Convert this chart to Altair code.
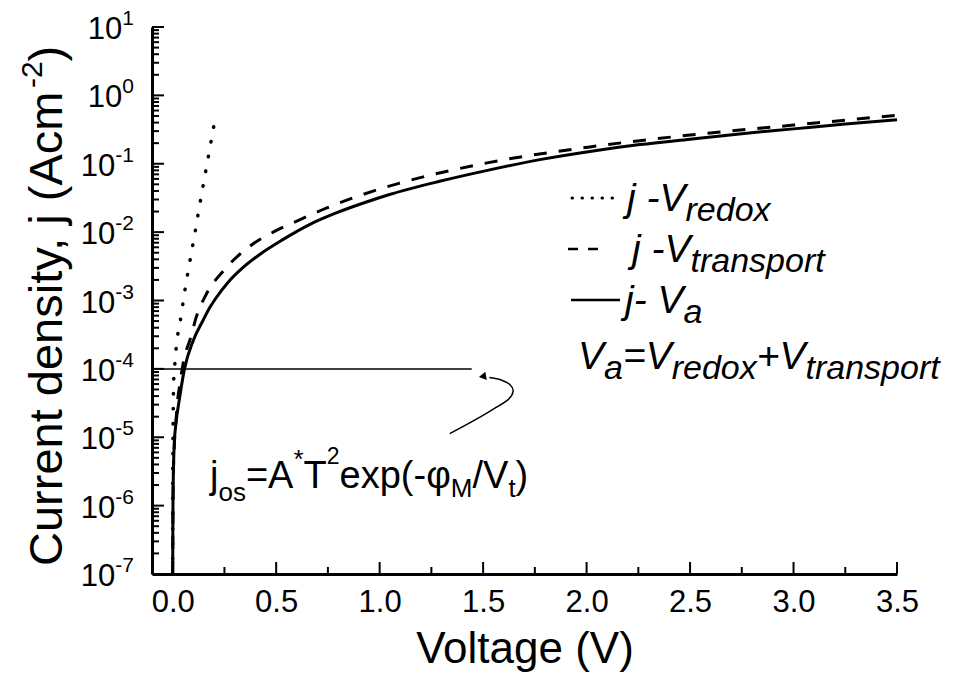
import altair as alt
import pandas as pd

FONT = "Liberation Sans"

# ---------------- data (V in volts, log10 j in A/cm^2) -------------
v_redox = [0.0, 0.0005, 0.002, 0.005, 0.010, 0.016, 0.024, 0.036, 0.058, 0.083, 0.108, 0.133, 0.158, 0.184, 0.21]
lj_redox = [-7.0, -5.5, -4.8, -4.16, -3.94, -3.72, -3.51, -3.31, -2.87, -2.43, -2.0, -1.56, -1.135, -0.70, -0.257]

v_transport = [0.0, 0.001, 0.003, 0.008, 0.016, 0.024, 0.036, 0.048, 0.089, 0.113, 0.162, 0.25, 0.371, 0.492,
               0.613, 0.742, 0.968, 1.089, 1.532, 2.016, 2.5, 3.0, 3.5]
lj_transport = [-7.0, -6.2, -5.6, -5.1, -4.75, -4.45, -4.2, -3.96, -3.52, -3.25, -2.91, -2.55, -2.21, -1.99,
                -1.82, -1.65, -1.40, -1.29, -0.98, -0.754, -0.58, -0.435, -0.29]

v_a = [0.0, 0.001, 0.003, 0.008, 0.016, 0.032, 0.057, 0.10, 0.145, 0.18, 0.21, 0.266, 0.339, 0.419, 0.532,
       0.661, 0.79, 0.936, 1.048, 1.29, 1.532, 1.774, 2.016, 2.258, 2.5, 2.75, 3.0, 3.25, 3.5]
lj_a = [-7.0, -6.2, -5.57, -5.08, -4.79, -4.45, -4.0, -3.58, -3.3, -3.10, -2.96, -2.74, -2.52, -2.33, -2.11,
        -1.89, -1.72, -1.56, -1.45, -1.257, -1.09, -0.94, -0.82, -0.72, -0.64, -0.56, -0.49, -0.42, -0.355]

# j_os level line and the curved arrow pointing to it
jos_v = [-0.1, 1.445]
jos_lj = [-4.0, -4.0]
arrow_v = [1.339, 1.435, 1.532, 1.621, 1.645, 1.629, 1.581, 1.53]
arrow_lj = [-4.946, -4.79, -4.62, -4.449, -4.327, -4.229, -4.156, -4.125]
arrow_tip_v = [1.497]
arrow_tip_lj = [-4.11]

# axis ticks
x_major = [0.0, 0.5, 1.0, 1.5, 2.0, 2.5, 3.0, 3.5]
x_minor = [0.25, 0.75, 1.25, 1.75, 2.25, 2.75, 3.25]
y_exponents = [1, 0, -1, -2, -3, -4, -5, -6, -7]
y_minor_mult = [2, 3, 4, 5, 6, 7, 8, 9]

# ---------------- layout ----------------
PL, PT = 152, 27          # plot origin on the page
W, H = 745, 547           # plot area


def curve_df(v, lj):
    return pd.DataFrame({"V": v, "j": [10.0 ** e for e in lj], "o": list(range(len(v)))})


XS = alt.Scale(domain=[-0.1, 3.5], nice=False, zero=False)
YS = alt.Scale(type="log", domain=[1e-7, 10], nice=False)

X = alt.X("V:Q", scale=XS,
          axis=alt.Axis(values=x_major, format=".1f", labelFontSize=31, labelFont=FONT, labelColor="black",
                        labelFlush=False, labelOverlap=False, ticks=False, grid=False, domainWidth=3,
                        domainColor="black", labelPadding=13, title="Voltage (V)", titleFontSize=44,
                        titleFont=FONT, titleFontWeight="normal", titleColor="black", titlePadding=10))
Y = alt.Y("j:Q", scale=YS,
          axis=alt.Axis(labels=False, ticks=False, grid=False, domainWidth=3, domainColor="black", title=None))

layers = []

# curves
layers.append(alt.Chart(curve_df(v_redox, lj_redox)).mark_line(
    color="black", strokeWidth=3.5, strokeDash=[0.5, 14.5], strokeCap="round", interpolate="monotone"
).encode(x=X, y=Y, order="o:Q"))
layers.append(alt.Chart(curve_df(v_transport, lj_transport)).mark_line(
    color="black", strokeWidth=3, strokeDash=[13, 12], interpolate="monotone"
).encode(x=X, y=Y, order="o:Q"))
layers.append(alt.Chart(curve_df(v_a, lj_a)).mark_line(
    color="black", strokeWidth=3, interpolate="monotone"
).encode(x=X, y=Y, order="o:Q"))

# j_os line
jos = pd.DataFrame({"V": [jos_v[0]], "V2": [jos_v[1]], "j": [10.0 ** jos_lj[0]]})
layers.append(alt.Chart(jos).mark_rule(color="black", strokeWidth=1.5).encode(x=X, x2="V2:Q", y=Y))

# arrow
layers.append(alt.Chart(curve_df(arrow_v, arrow_lj)).mark_line(
    color="black", strokeWidth=1.5, interpolate="cardinal").encode(x=X, y=Y, order="o:Q"))
layers.append(alt.Chart(curve_df(arrow_tip_v, arrow_tip_lj)).mark_point(
    shape="triangle-left", filled=True, color="black", size=70, opacity=1, angle=350).encode(x=X, y=Y))

# inward ticks
ymaj = pd.DataFrame({"j": [10.0 ** e for e in y_exponents]})
ymin = pd.DataFrame({"j": [m * 10.0 ** e for e in y_exponents[1:] for m in y_minor_mult]})
layers.append(alt.Chart(ymaj).mark_rule(color="black", strokeWidth=2).encode(
    y=Y, x=alt.value(0), x2=alt.value(12)))
layers.append(alt.Chart(ymin).mark_rule(color="black", strokeWidth=2).encode(
    y=Y, x=alt.value(0), x2=alt.value(7)))
xmaj = pd.DataFrame({"V": x_major})
xmin = pd.DataFrame({"V": x_minor})
layers.append(alt.Chart(xmaj).mark_rule(color="black", strokeWidth=2).encode(
    x=X, y=alt.value(H), y2=alt.value(H - 12)))
layers.append(alt.Chart(xmin).mark_rule(color="black", strokeWidth=2).encode(
    x=X, y=alt.value(H), y2=alt.value(H - 7)))

# y tick labels: "10" with superscript exponent
EXP_RIGHT = -18  # right edge of exponent relative to the axis
EXP_FS, BASE_FS = 21, 31
for neg in (False, True):
    exps = [e for e in y_exponents if (e < 0) == neg]
    df = pd.DataFrame({"j": [10.0 ** e for e in exps], "b": ["10"] * len(exps), "e": [str(e) for e in exps]})
    ew = (0.333 + 0.556) * EXP_FS if neg else 0.556 * EXP_FS
    layers.append(alt.Chart(df).mark_text(align="right", baseline="middle", fontSize=BASE_FS, font=FONT,
                                          color="black", dy=3).encode(
        y=Y, x=alt.value(EXP_RIGHT - ew), text="b:N"))
    layers.append(alt.Chart(df).mark_text(align="right", baseline="middle", fontSize=EXP_FS, font=FONT,
                                          color="black", dy=-8).encode(
        y=Y, x=alt.value(EXP_RIGHT), text="e:N"))

# ---------------- rich text helper ----------------
AW = {' ': 278, '(': 333, ')': 333, '*': 389, '+': 584, ',': 278, '-': 333, '.': 278, '/': 278, '=': 584,
      'A': 667, 'C': 722, 'M': 833, 'T': 611, 'V': 667,
      'a': 556, 'c': 500, 'd': 556, 'e': 556, 'i': 222, 'j': 222, 'm': 833, 'n': 556, 'o': 556, 'p': 556,
      'r': 333, 's': 500, 't': 278, 'u': 556, 'x': 500, 'y': 500, 'φ': 650}


def tw(s, fs):
    return sum(AW.get(c, 556) for c in s) / 1000.0 * fs


def rich(pieces, x0, y0, angle=0):
    """pieces: (text, fontsize, style, raise) ; x0,y0 page coords of baseline start."""
    out = []
    adv = 0.0
    for txt, fs, style, rs in pieces:
        if angle == 0:
            px, py = x0 + adv, y0 - rs
        else:  # rotated 270: text runs upward
            px, py = x0 - rs, y0 - adv
        out.append(alt.Chart(pd.DataFrame({"t": [txt]})).mark_text(
            align="left", baseline="alphabetic", fontSize=fs, font=FONT, fontStyle=style, color="black",
            angle=angle).encode(text="t:N", x=alt.value(px - PL), y=alt.value(py - PT)))
        adv += tw(txt, fs)
    return out


# y-axis title
layers += rich([("Current density, j (Acm", 47, "normal", 0), ("-2", 30, "normal", 20), (")", 47, "normal", 0)],
               62, 566, angle=270)

# formula
MF, SF = 38, 26
layers += rich([("j", MF, "normal", 0), ("os", SF, "normal", -13), ("=A", MF, "normal", 0),
                ("*", SF, "normal", 20), ("T", MF, "normal", 0), ("2", 23, "normal", 24),
                ("exp(-φ", MF, "normal", 0), ("M", SF, "normal", -9), ("/V", MF, "normal", 0),
                ("t", SF, "normal", -9), (")", MF, "normal", 0)], 210, 488)

# legend
LF, LS = 39, 34
layers += rich([("j -V", LF, "italic", 0), ("redox", LS, "italic", -10)], 627, 211)
layers += rich([("j -V", LF, "italic", 0), ("transport", LS, "italic", -10)], 632, 262)
layers += rich([("j- V", LF, "italic", 0), ("a", LS, "italic", -10)], 625, 313)
layers += rich([("V", LF, "italic", 0), ("a", LS, "italic", -10), ("=V", LF, "italic", 0),
                ("redox", LS, "italic", -10), ("+V", LF, "italic", 0), ("transport", LS, "italic", -10)],
               578, 369)

# legend samples
samp = pd.DataFrame({"k": [0]})
layers.append(alt.Chart(samp).mark_rule(color="black", strokeWidth=3, strokeDash=[0.5, 9.5],
                                        strokeCap="round").encode(
    x=alt.value(572 - PL), x2=alt.value(614 - PL), y=alt.value(198 - PT)))
layers.append(alt.Chart(samp).mark_rule(color="black", strokeWidth=2.5, strokeDash=[10, 10]).encode(
    x=alt.value(568 - PL), x2=alt.value(600 - PL), y=alt.value(249 - PT)))
layers.append(alt.Chart(samp).mark_rule(color="black", strokeWidth=2.5).encode(
    x=alt.value(571 - PL), x2=alt.value(620 - PL), y=alt.value(300 - PT)))

chart = alt.layer(*layers).properties(
    width=W, height=H,
    padding={"left": PL, "top": PT, "right": 953 - PL - W, "bottom": 696 - PT - H},
    autosize=alt.AutoSizeParams(type="none"),
    background="white",
).configure_view(stroke=None)

chart.save("out.html", embed_options={"renderer": "svg", "actions": False})
